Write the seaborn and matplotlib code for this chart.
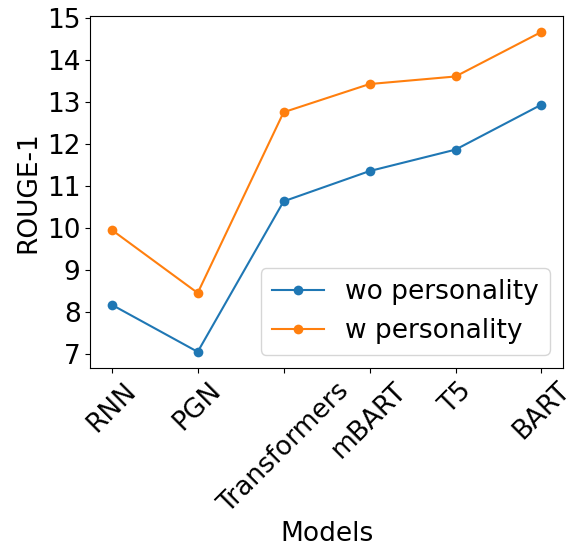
import pandas as pd
import seaborn as sns
import matplotlib.pyplot as plt
from matplotlib.ticker import MultipleLocator

models = ["RNN", "PGN", "Transformers", "mBART", "T5", "BART"]
wo_personality = [8.17, 7.05, 10.63, 11.35, 11.86, 12.93]
w_personality = [9.95, 8.45, 12.75, 13.42, 13.60, 14.66]

df = pd.DataFrame({"Models": models, "wo": wo_personality, "w": w_personality})

fs = 19
plt.rcParams["font.size"] = fs
fig, ax = plt.subplots(figsize=(5.75, 5.49), dpi=100)
colors = sns.color_palette("tab10")

sns.lineplot(data=df, x="Models", y="wo", marker="o", markersize=7, markeredgewidth=0,
             color=colors[0], label="wo personality", ax=ax, sort=False)
sns.lineplot(data=df, x="Models", y="w", marker="o", markersize=7, markeredgewidth=0,
             color=colors[1], label="w personality", ax=ax, sort=False)

ax.yaxis.set_major_locator(MultipleLocator(1))
ax.set_xlabel("Models", fontsize=fs, labelpad=2)
ax.set_ylabel("ROUGE-1", fontsize=fs)
ax.tick_params(axis="both", labelsize=fs)
plt.setp(ax.get_xticklabels(), rotation=45)
ax.legend(loc="lower right", fontsize=fs)

fig.subplots_adjust(left=0.157, right=0.979, top=0.971, bottom=0.330)
fig.savefig("out.png", dpi=100)
